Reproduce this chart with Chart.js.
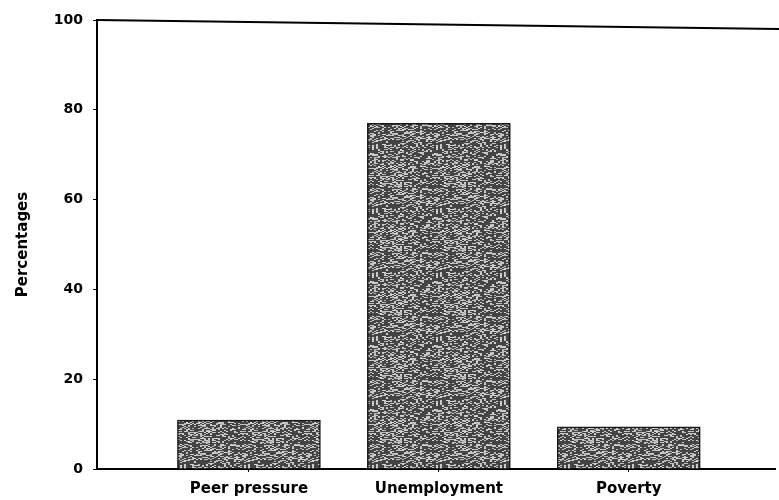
<!DOCTYPE html>
<html>
<head>
<meta charset="utf-8">
<script src="https://cdn.jsdelivr.net/npm/chart.js@4"></script>
<style>
  html, body { margin: 0; padding: 0; background: #fff; }
  #wrap { width: 779px; height: 500px; }
</style>
</head>
<body>
<div id="wrap"><canvas id="causeChart"></canvas></div>
<script>
var categories = ['Peer pressure', 'Unemployment', 'Poverty'];
var percentages = [10.9, 77, 9.4];
var yTicks = [0, 20, 40, 60, 80, 100];

// speckled grey fill like the scanned bars (deterministic hash, no randomness)
function speckle() {
  var cv = document.createElement('canvas');
  cv.width = 64; cv.height = 64;
  var c = cv.getContext('2d');
  c.fillStyle = '#444';
  c.fillRect(0, 0, 64, 64);
  for (var y = 0; y < 64; y++) {
    for (var x = 0; x < 64; x += 2) {
      var h = Math.sin(x * 12.9898 + y * 78.233) * 43758.5453;
      h = h - Math.floor(h);
      if (h > 0.65) {
        var g = 100 + Math.floor(h * 120);
        c.fillStyle = 'rgb(' + g + ',' + g + ',' + g + ')';
        c.fillRect(x, y, 2, 1);
      }
    }
  }
  return ctx.createPattern(cv, 'repeat');
}

// top frame line, the original has one across the plot top
var topLine = {
  id: 'topLine',
  afterDraw: function(chart) {
    var a = chart.chartArea, c = chart.ctx;
    c.save();
    c.strokeStyle = '#000';
    c.lineWidth = 2;
    c.beginPath();
    c.moveTo(a.left, a.top);
    c.lineTo(a.right + 4, a.top + 9);
    c.stroke();
    c.restore();
  }
};

var font = 'DejaVu Sans, Liberation Sans, Arial, sans-serif';
var ctx = document.getElementById('causeChart').getContext('2d');
var causeChart = new Chart(ctx, {
  type: 'bar',
  data: {
    datasets: [{
      label: 'Percentages',
      data: percentages.map(function(v, i) { return { x: i, y: v }; }),
      backgroundColor: speckle(),
      borderColor: '#1a1a1a',
      borderWidth: 1.5,
      barThickness: 143
    }]
  },
  options: {
    responsive: true,
    maintainAspectRatio: false,
    animation: false,
    layout: { padding: { top: 20, right: 4, left: 0, bottom: 0 } },
    scales: {
      x: {
        type: 'linear',
        offset: false,
        min: -0.8,
        max: 2.77,
        afterBuildTicks: function(axis) {
          axis.ticks = categories.map(function(c, i) { return { value: i }; });
        },
        afterFit: function(axis) { axis.height = 31; },
        grid: { offset: false, drawOnChartArea: false, drawTicks: true, tickLength: 3, color: '#000' },
        border: { color: '#000', width: 2 },
        ticks: {
          color: '#000',
          padding: 8,
          font: { family: font, size: 15, weight: 'bold' },
          callback: function(v) { return categories[v] || ''; }
        }
      },
      y: {
        min: 0,
        max: 100,
        afterBuildTicks: function(axis) {
          axis.ticks = yTicks.map(function(v) { return { value: v }; });
        },
        afterFit: function(axis) { axis.width = 97; },
        grid: { drawOnChartArea: false, drawTicks: true, tickLength: 4, color: '#000' },
        border: { color: '#000', width: 2 },
        title: {
          display: true,
          text: 'Percentages',
          color: '#000',
          padding: { top: 14, bottom: 0 },
          font: { family: font, size: 15, weight: 'bold' }
        },
        ticks: {
          color: '#000',
          padding: 10,
          font: { family: font, size: 14, weight: 'bold' }
        }
      }
    },
    plugins: {
      legend: { display: false },
      tooltip: { enabled: false }
    }
  },
  plugins: [topLine]
});
</script>
</body>
</html>
